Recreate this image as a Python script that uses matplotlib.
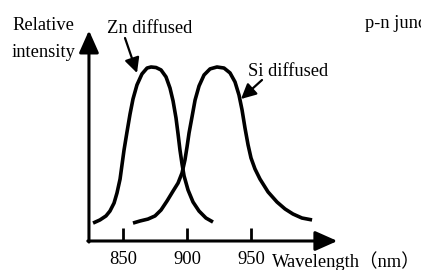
import matplotlib
matplotlib.use("Agg")
import matplotlib.pyplot as plt

plt.rcParams.update({"font.family": ["Liberation Serif", "Noto Sans CJK SC", "DejaVu Sans"]})

# emission spectra (wavelength nm, relative intensity, peak = 1)
zn_nm = [826.6, 832.0, 836.7, 839.8, 843.0, 845.3, 847.7, 849.2, 850.8, 853.1, 855.5, 857.8,
         860.9, 864.8, 868.8, 871.9, 875.8, 879.7, 883.6, 886.7, 889.1, 891.4, 893.0, 894.5,
         896.1, 897.7, 900.8, 904.7, 909.4, 914.8, 920.3]
zn_int = [0.103, 0.121, 0.144, 0.172, 0.218, 0.276, 0.356, 0.437, 0.523, 0.626, 0.730, 0.816,
          0.897, 0.960, 0.994, 1.000, 0.997, 0.983, 0.943, 0.879, 0.805, 0.707, 0.615, 0.523,
          0.443, 0.374, 0.293, 0.224, 0.172, 0.132, 0.109]
si_nm = [857.8, 863.3, 869.5, 875.0, 879.7, 884.4, 889.1, 893.0, 896.1, 898.4, 900.0, 901.6,
         903.9, 906.3, 909.4, 913.3, 918.0, 923.4, 928.9, 933.6, 937.5, 940.6, 943.0, 945.3,
         947.7, 950.0, 953.1, 957.0, 963.3, 970.3, 976.6, 982.8, 989.8, 997.7]
si_int = [0.103, 0.115, 0.126, 0.144, 0.178, 0.230, 0.287, 0.333, 0.391, 0.466, 0.540, 0.621,
          0.713, 0.810, 0.891, 0.954, 0.989, 1.000, 0.994, 0.966, 0.914, 0.839, 0.753, 0.649,
          0.552, 0.477, 0.414, 0.356, 0.282, 0.224, 0.184, 0.155, 0.132, 0.121]
ticks = [850, 900, 950]
tick_labels = ["850", "900", "950"]

W, H = 421, 270
fig = plt.figure(figsize=(W / 100, H / 100), dpi=100)
ax = fig.add_axes([0, 0, 1, 1])
ax.set_xlim(753.9, 1082.8)
ax.set_ylim(-0.1667, 1.385)
ax.axis("off")

def px(x, y):
    # picture pixel (from top-left) -> data coords
    return tuple(ax.transData.inverted().transform((x, H - y)))

FS = 13.3
# axes with arrow heads
x0, x1, ytop = 823.4, 1017.5, 1.21
arr = dict(arrowstyle="-|>,head_length=1.35,head_width=0.6", lw=2.2, color="k",
           shrinkA=0, shrinkB=0, mutation_scale=10)
ax.annotate("", xy=(x0, ytop), xytext=(x0, -0.006), arrowprops=arr)
ax.annotate("", xy=(x1, 0), xytext=(x0 - 0.9, 0), arrowprops=arr)
ax.vlines(ticks, 0, 0.075, color="k", lw=2.0)
for t, lab in zip(ticks, tick_labels):
    ax.text(t, px(0, 264)[1], lab, ha="center", va="baseline", fontsize=FS)

# curves
ax.plot(zn_nm, zn_int, color="k", lw=2.6, solid_capstyle="butt")
ax.plot(si_nm, si_int, color="k", lw=2.6, solid_capstyle="butt")

# texts
ax.text(*px(12, 30), "Relative", fontsize=FS, va="baseline", ha="left")
ax.text(*px(12, 57), "intensity", fontsize=FS, va="baseline", ha="left")
ax.text(*px(107, 33), "Zn diffused", fontsize=FS, va="baseline", ha="left")
ax.text(*px(248, 76), "Si diffused", fontsize=FS, va="baseline", ha="left")
ax.text(*px(365, 28), "p-n junction", fontsize=FS, va="baseline", ha="left")
ax.text(*px(272, 267), "Wavelength（nm）", fontsize=FS, va="baseline", ha="left")

lab = dict(arrowstyle="-|>,head_length=0.9,head_width=0.45", lw=1.6, color="k",
           shrinkA=0, shrinkB=0, mutation_scale=10)
ax.annotate("", xy=px(137, 73), xytext=px(125, 38), arrowprops=lab)
ax.annotate("", xy=px(241, 99), xytext=px(262, 80), arrowprops=lab)

fig.savefig("out.png", dpi=100)
